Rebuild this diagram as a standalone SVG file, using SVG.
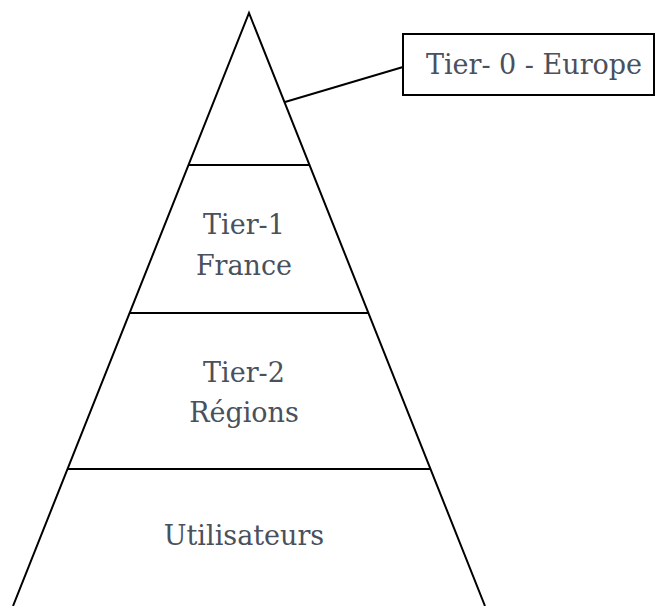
<svg xmlns="http://www.w3.org/2000/svg" width="656" height="606" viewBox="0 0 656 606">
<style>
.ln{stroke:#000;stroke-width:2;fill:none}
.t{font-family:"DejaVu Serif","Liberation Serif",serif;font-size:27px;fill:#4a505c;text-anchor:middle}
</style>
<rect width="656" height="606" fill="#fff"/>
<g id="pyramid">
<polyline class="ln" points="13,606 249,13 485,606"/>
</g>
<g id="tier0">
<rect x="403" y="34" width="251" height="61" fill="#fff" stroke="#000" stroke-width="2"/>
<text class="t" x="534" y="74">Tier- 0 - Europe</text>
</g>
<g id="tier1">
<line class="ln" x1="188" y1="165" x2="310" y2="165"/>
<text class="t" x="244" y="234">Tier-1</text>
<text class="t" x="244" y="275">France</text>
</g>
<g id="tier2">
<line class="ln" x1="130" y1="313" x2="368" y2="313"/>
<text class="t" x="244" y="382">Tier-2</text>
<text class="t" x="244" y="422">Régions</text>
</g>
<g id="users">
<line class="ln" x1="68" y1="469" x2="430" y2="469"/>
<text class="t" x="244" y="545">Utilisateurs</text>
</g>
<g id="connectors">
<line class="ln" x1="285" y1="102" x2="403" y2="67"/>
</g>
</svg>
